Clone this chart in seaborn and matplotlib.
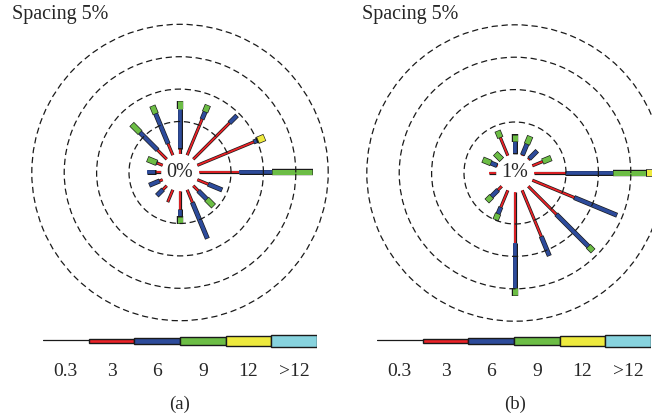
import numpy as np
import matplotlib
matplotlib.use("Agg")
import matplotlib.pyplot as plt
import seaborn as sns

directions = ["N", "NNE", "NE", "ENE", "E", "ESE", "SE", "SSE",
              "S", "SSW", "SW", "WSW", "W", "WNW", "NW", "NNW"]
classes = ["0.3", "3", "6", "9", "12", ">12"]

# frequency (%) of each speed class per direction, panel (a)
a_red = [0.9, 6.1, 8.0, 9.5, 6.3, 1.9, 1.2, 2.2, 2.9, 2.0, 0.9, 0.6, 1.0, 1.0, 2.1, 2.0]
a_blue = [6.1, 1.2, 1.5, 0.6, 5.1, 2.2, 1.8, 5.9, 1.1, 0.0, 1.2, 1.6, 1.2, 0.1, 3.8, 5.0]
a_green = [1.1, 1.0, 0.0, 0.1, 6.1, 0.0, 1.4, 0.0, 1.0, 0.0, 0.0, 0.0, 0.0, 1.4, 1.7, 1.2]
a_yellow = [0, 0, 0, 1.0, 0, 0, 0, 0, 0, 0, 0, 0, 0, 0, 0, 0]
a_cyan = [0] * 16
calm_a = "0%"

# panel (b)
b_red = [0.2, 0.2, 0.3, 1.8, 5.0, 7.1, 6.2, 7.8, 8.0, 2.9, 0.9, 0.0, 1.1, 0.2, 0.05, 3.1]
b_blue = [1.8, 1.8, 1.6, 0.0, 7.3, 7.0, 7.0, 3.1, 6.9, 1.1, 1.4, 0.0, 0.0, 1.0, 0.05, 0.0]
b_green = [1.0, 1.2, 0.0, 1.3, 5.15, 0.0, 0.9, 0.0, 1.1, 0.9, 0.9, 0.0, 0.0, 1.25, 1.25, 1.0]
b_yellow = [0, 0, 0, 0, 2.3, 0, 0, 0, 0, 0, 0, 0, 0, 0, 0, 0]
b_cyan = [0] * 16
calm_b = "1%"

sns.set_theme(style="white")
plt.rcParams["font.family"] = ["Liberation Serif", "DejaVu Serif"]
colors = sns.color_palette(["#ec2227", "#2d4b9b", "#6cbd45", "#eeea3e", "#87d3de"])
seg_lw = [1.3, 2.6, 3.6, 4.4, 5.4]

W, H = 652, 417
fig = plt.figure(figsize=(W / 100, H / 100), dpi=100)

hole = 2.87      # radius of the empty centre, in %
rmax = 22.0
px_per = 6.48
R = (rmax + hole) * px_per
ext = 0.09


def rose(cx, cy, series, calm):
    ax = fig.add_axes([(cx - R) / W, (H - cy - R) / H, 2 * R / W, 2 * R / H],
                      projection="polar")
    ax.set_rorigin(-hole)
    ax.set_ylim(0, rmax)
    ax.set_frame_on(False)
    ax.set_xticks([])
    ax.set_rgrids([5, 10, 15, 20], labels=[""] * 4)
    ax.tick_params(axis="y", length=0)
    ax.yaxis.grid(True, color="k", ls=(0, (5, 3)), lw=0.9)
    ax.set_axisbelow(False)

    data = np.array(series)
    cum = np.cumsum(data, axis=0)
    for i, d in enumerate(directions):
        t = np.deg2rad(90 - 22.5 * i)
        lo = 0.0
        for k in range(len(series)):
            hi = cum[k, i]
            if data[k, i] > 0:
                ax.plot([t, t], [max(lo - ext, 0), hi + ext], color="k",
                        lw=seg_lw[k] + 1.0, solid_capstyle="butt", zorder=2)
                ax.plot([t, t], [lo, hi], color=colors[k], lw=seg_lw[k],
                        solid_capstyle="butt", zorder=2)
            lo = hi
    ax.text(0.5, 0.5, calm, transform=ax.transAxes, ha="center", va="center",
            fontsize=14.5)
    return ax


def legend(x0, x1):
    lax = fig.add_axes([x0 / W, (H - 355) / H, (x1 - x0) / W, 28 / H])
    lax.set_xlim(0, 6)
    lax.set_ylim(-14, 14)
    lax.patch.set_visible(False)
    sns.despine(ax=lax, left=True, bottom=True)
    lax.plot([0, 1], [1.5, 1.5], color="k", lw=0.9)
    heights = [3.3, 5.3, 7.3, 9.6, 11.9]
    lax.barh(y=0, width=1, left=np.arange(1, 6), height=heights,
             color=colors, edgecolor="k", lw=1.0, align="center")
    lax.set_yticks([])
    lax.set_xticks(np.arange(6) + 0.5, classes)
    lax.tick_params(axis="x", length=0, pad=6, labelsize=14)
    lax.grid(False)


rose(180, 172.5, [a_red, a_blue, a_green, a_yellow, a_cyan], calm_a)
rose(515, 173, [b_red, b_blue, b_green, b_yellow, b_cyan], calm_b)
legend(43, 317)
legend(377, 651)

fig.text(12 / W, 1 - 15 / H, "Spacing 5%", ha="left", va="center", fontsize=14.5)
fig.text(362 / W, 1 - 15 / H, "Spacing 5%", ha="left", va="center", fontsize=14.5)
fig.text(180 / W, 1 - 404 / H, "(a)", ha="center", va="center", fontsize=13.5)
fig.text(515 / W, 1 - 404 / H, "(b)", ha="center", va="center", fontsize=13.5)

fig.savefig("out.png", dpi=100)
